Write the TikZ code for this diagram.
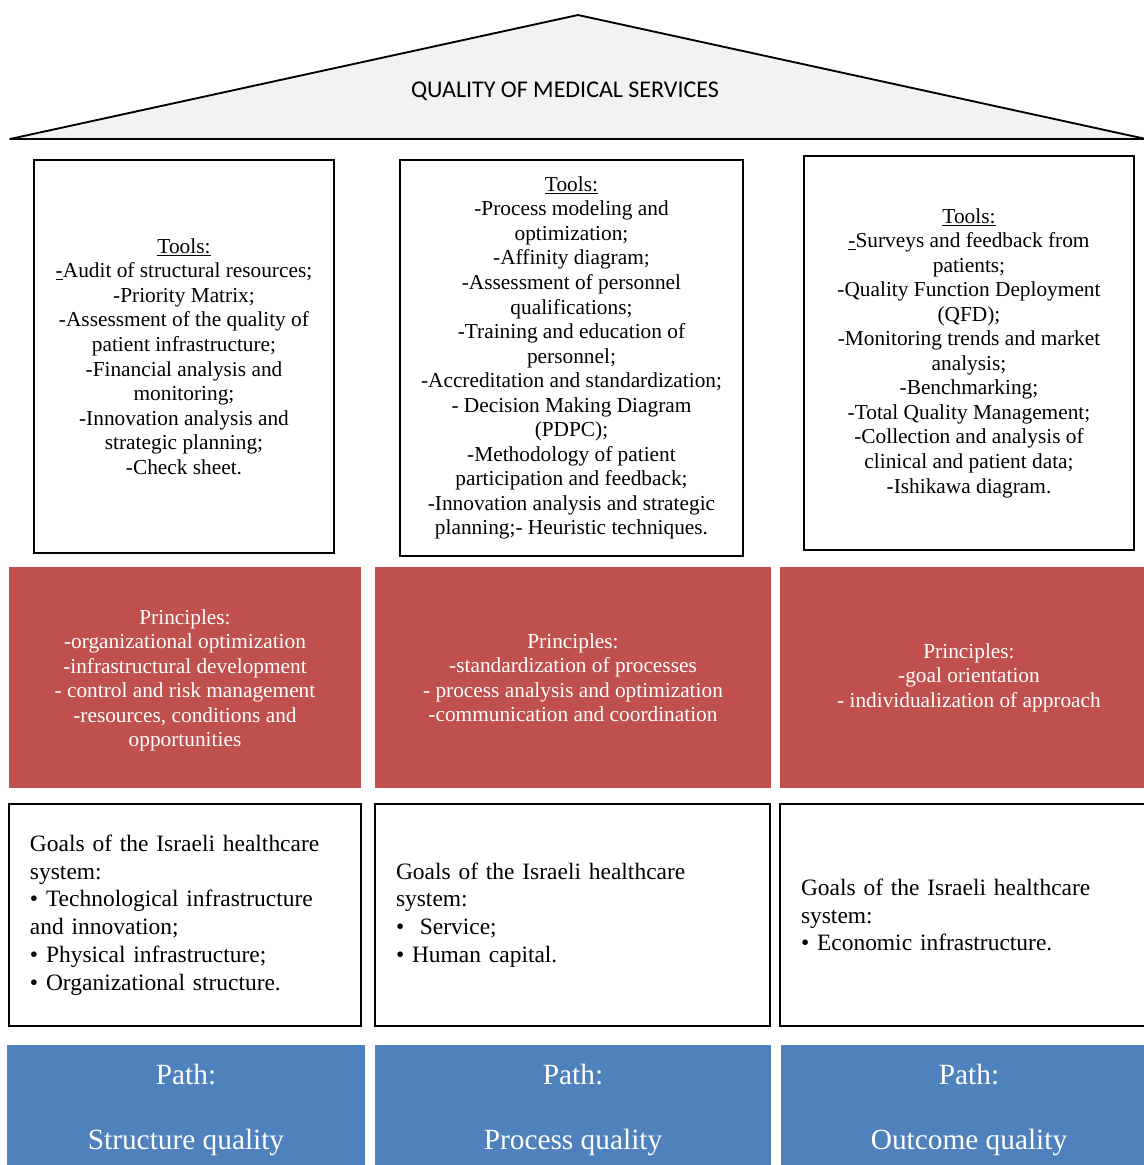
\documentclass[tikz,border=0pt]{standalone}
\usepackage{fontspec}
\setmainfont{Liberation Serif}
\newfontfamily\titlefont{Carlito}
\definecolor{roofgray}{HTML}{F2F2F2}
\definecolor{principlered}{HTML}{C0504D}
\definecolor{pathblue}{HTML}{4F81BD}
\tikzset{
  toolbox/.style={draw=black, line width=1.2pt, fill=white, align=center, inner sep=0pt,
    font=\fontsize{16pt}{18.4pt}\selectfont},
  principlebox/.style={fill=principlered, text=white, align=center, inner sep=0pt,
    font=\fontsize{16pt}{18.4pt}\selectfont},
  goalbox/.style={draw=black, line width=1.2pt, fill=white, align=left, inner xsep=15.75pt, inner ysep=0pt,
    font=\fontsize{17.6pt}{20.85pt}\selectfont},
  pathbox/.style={fill=pathblue, text=white, align=center, inner sep=0pt,
    font=\fontsize{22pt}{48.75pt}\selectfont},
}
\begin{document}
\begin{tikzpicture}[x=0.75pt, y=-0.75pt]
\useasboundingbox (0,0) rectangle (1144,1165);
\clip (0,0) rectangle (1144,1165);

% roof
\coordinate (apex) at (578,15);
\coordinate (baseL) at (10,139);
\coordinate (baseR) at (1146,139);
\draw[fill=roofgray, line width=1.4pt, line join=round] (baseL) -- (apex) -- (baseR) -- cycle;
\node[font=\titlefont\fontsize{18pt}{21pt}\selectfont] (title) at (565,91) {QUALITY OF MEDICAL SERVICES};

% tools
\node[toolbox, minimum width=225pt, minimum height=294.75pt] (tools1) at (184,356.5)
  {\underline{Tools:}\\ \underline{-}Audit of structural resources;\\ -Priority Matrix;\\
   -Assessment of the quality of\\ patient infrastructure;\\ -Financial analysis and\\ monitoring;\\
   -Innovation analysis and\\ strategic planning;\\ -Check sheet.};
\node[toolbox, minimum width=257.25pt, minimum height=297pt] (tools2) at (571.5,358)
  {\underline{Tools:}\\ -Process modeling and\\ optimization;\\ -Affinity diagram;\\
   -Assessment of personnel\\ qualifications;\\ -Training and education of\\ personnel;\\
   -Accreditation and standardization;\\ - Decision Making Diagram\\ (PDPC);\\
   -Methodology of patient\\ participation and feedback;\\ -Innovation analysis and strategic\\
   planning;- Heuristic techniques.};
\node[toolbox, minimum width=247.5pt, minimum height=295.5pt] (tools3) at (969,353)
  {\underline{Tools:}\\ \underline{-}Surveys and feedback from\\ patients;\\ -Quality Function Deployment\\
   (QFD);\\ -Monitoring trends and market\\ analysis;\\ -Benchmarking;\\ -Total Quality Management;\\
   -Collection and analysis of\\ clinical and patient data;\\ -Ishikawa diagram.};

% principles
\node[principlebox, minimum width=264pt, minimum height=165.75pt] (prin1) at (185,677.5)
  {\\[-3pt] Principles:\\ -organizational optimization\\ -infrastructural development\\
   - control and risk management\\ -resources, conditions and\\ opportunities};
\node[principlebox, minimum width=297pt, minimum height=165.75pt] (prin2) at (573,677.5)
  {Principles:\\ -standardization of processes\\ - process analysis and optimization\\
   -communication and coordination};
\node[principlebox, minimum width=283.5pt, minimum height=165.75pt] (prin3) at (969,677.5)
  {Principles:\\ -goal orientation\\ - individualization of approach};

% goals
\node[goalbox, text width=232.5pt, minimum height=166.5pt] (goal1) at (185,915)
  {Goals of the Israeli healthcare\\ system:\\ • Technological infrastructure\\ and innovation;\\
   • Physical infrastructure;\\ • Organizational structure.};
\node[goalbox, text width=264.75pt, minimum height=166.5pt] (goal2) at (572.5,915)
  {Goals of the Israeli healthcare\\ system:\\ •\ \ Service;\\ • Human capital.};
\node[goalbox, text width=252pt, minimum height=166.5pt] (goal3) at (969,915)
  {Goals of the Israeli healthcare\\ system:\\ • Economic infrastructure.};

% paths
\node[pathbox, minimum width=268.5pt, minimum height=97.5pt] (path1) at (186,1110)
  {Path:\\ Structure quality};
\node[pathbox, minimum width=297pt, minimum height=97.5pt] (path2) at (573,1110)
  {Path:\\ Process quality};
\node[pathbox, minimum width=282pt, minimum height=97.5pt] (path3) at (969,1110)
  {Path:\\ Outcome quality};
\end{tikzpicture}
\end{document}
